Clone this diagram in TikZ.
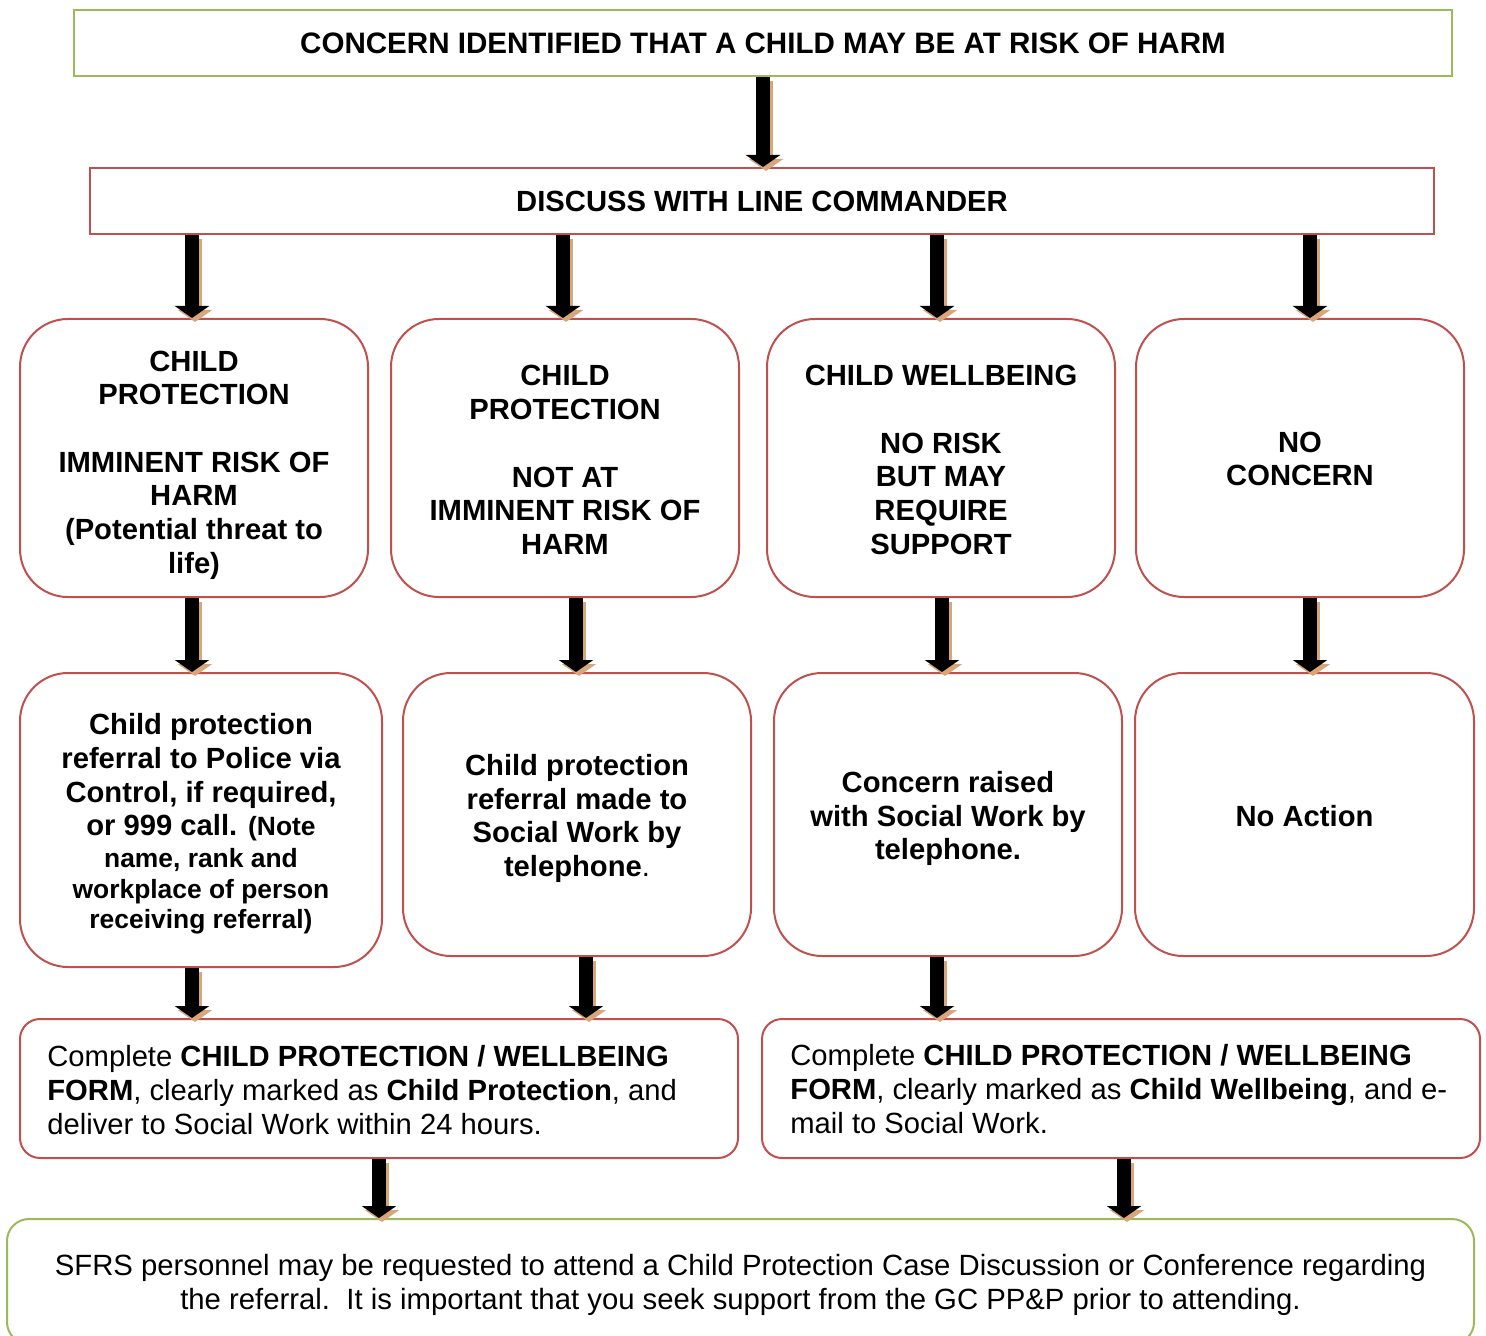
\documentclass[tikz,border=0pt]{standalone}
\usepackage{fontspec}
\setmainfont{Liberation Sans}
\usetikzlibrary{arrows.meta}
\definecolor{grn}{HTML}{9BBB59}
\definecolor{rd}{HTML}{C0504D}
\definecolor{shad}{RGB}{217,166,121}
\newcommand\bigf{\fontsize{14.6pt}{16.85pt}\selectfont}
\newcommand\smallf{\fontsize{13.2pt}{15.5pt}\selectfont}
\newcommand\blockarr[2]{%
  \draw[arrshadow] (#1) -- (#2);
  \draw[arrmain] (#1) -- (#2);}
\begin{document}
\begin{tikzpicture}[x=0.5pt,y=-0.5pt,
  sqbox/.style={draw=#1,line width=1pt,rectangle,inner sep=0pt,font=\bigf\bfseries,align=center},
  rbox/.style={draw=rd,line width=1pt,rectangle,rounded corners=24pt,inner sep=0pt},
  btext/.style={inner sep=0pt,font=\bigf\bfseries,align=center},
  formbox/.style={draw=rd,line width=1pt,rectangle,rounded corners=10pt,inner sep=0pt,minimum width=359pt,minimum height=69.5pt},
  formtext/.style={inner sep=0pt,font=\bigf,align=left,anchor=west},
  arrmain/.style={line width=7pt,black,-{Triangle[width=17pt,length=6pt]}},
  arrshadow/.style={line width=7pt,shad,-{Triangle[width=17pt,length=6pt]},transform canvas={xshift=1.5pt,yshift=-2pt}},
]
\useasboundingbox (0,0) rectangle (1486,1336);
\clip (0,0) rectangle (1486,1336);

% top
\node[sqbox=grn,minimum width=689pt,minimum height=33pt,font=\fontsize{14.78pt}{17pt}\selectfont\bfseries] (top) at (763,43) {CONCERN IDENTIFIED THAT A CHILD MAY BE AT RISK OF HARM};
\node[sqbox=rd,minimum width=672pt,minimum height=33pt] (disc) at (762,201) {DISCUSS WITH LINE COMMANDER};

% row 1
\node[rbox,minimum width=174pt,minimum height=139pt] (b1) at (194,458) {};
\node[btext] (b1t) at (194,465)
  {CHILD\\PROTECTION\\[16.85pt]IMMINENT RISK OF\\HARM\\(Potential threat to\\life)};
\node[rbox,minimum width=174pt,minimum height=139pt] (b2) at (565,458) {};
\node[btext] (b2t) at (565,460)
  {CHILD\\PROTECTION\\[16.85pt]NOT AT\\IMMINENT RISK OF\\HARM};
\node[rbox,minimum width=174pt,minimum height=139pt] (b3) at (941,458) {};
\node[btext] (b3t) at (941,460)
  {CHILD WELLBEING\\[16.85pt]NO RISK\\BUT MAY\\REQUIRE\\SUPPORT};
\node[rbox,minimum width=164pt,minimum height=139pt] (b4) at (1300,458) {};
\node[btext] (b4t) at (1300,459)
  {NO\\CONCERN};

% row 2
\node[rbox,minimum width=181pt,minimum height=147pt] (c1) at (201,820) {};
\node[btext] (c1t) at (201,824)
  {Child protection\\referral to Police via\\Control, if required,\\or 999 call. {\smallf(Note}\\[-1pt]{\smallf name, rank and}\\[-1.5pt]{\smallf workplace of person}\\[-1.5pt]{\smallf receiving referral)}};
\node[rbox,minimum width=174pt,minimum height=141.5pt] (c2) at (577,814.5) {};
\node[btext] (c2t) at (577,818.5)
  {Child protection\\referral made to\\Social Work by\\telephone{\mdseries.}};
\node[rbox,minimum width=174pt,minimum height=141.5pt] (c3) at (948,814.5) {};
\node[btext] (c3t) at (948,818.5)
  {Concern raised\\with Social Work by\\telephone.};
\node[rbox,minimum width=169.5pt,minimum height=141.5pt] (c4) at (1304.5,814.5) {};
\node[btext] (c4t) at (1304.5,816.5)
  {No Action};

% row 3
\node[formbox] (d1) at (379,1088.5) {};
\node[formtext] (d1t) at (47,1090)
  {Complete \textbf{CHILD PROTECTION / WELLBEING}\\\textbf{FORM}, clearly marked as \textbf{Child Protection}, and\\deliver to Social Work within 24 hours.};
\node[formbox] (d2) at (1121,1088.5) {};
\node[formtext] (d2t) at (790,1089)
  {Complete \textbf{CHILD PROTECTION / WELLBEING}\\\textbf{FORM}, clearly marked as \textbf{Child Wellbeing}, and e-\\mail to Social Work.};

% bottom
\node[draw=grn,line width=1pt,rectangle,rounded corners=11pt,inner sep=0pt,minimum width=733.5pt,minimum height=62.5pt] (e) at (740.5,1281.5) {};
\node[inner sep=0pt,font=\fontsize{14.65pt}{17pt}\selectfont,align=center] (et) at (740.5,1284.5)
  {SFRS personnel may be requested to attend a Child Protection Case Discussion or Conference regarding\\the referral.\ \ It is important that you seek support from the GC PP\&P prior to attending.};

% arrow columns
\coordinate (a0) at (763,0);
\coordinate (a1) at (192,0);
\coordinate (a2) at (563,0);
\coordinate (a3) at (937,0);
\coordinate (a4) at (1310,0);
\coordinate (r2) at (576,0);
\coordinate (r3) at (942,0);
\coordinate (s2) at (586,0);
\coordinate (t1) at (379,0);
\coordinate (t2) at (1124,0);

\blockarr{top.south -| a0}{disc.north -| a0}
\blockarr{disc.south -| a1}{b1.north -| a1}
\blockarr{disc.south -| a2}{b2.north -| a2}
\blockarr{disc.south -| a3}{b3.north -| a3}
\blockarr{disc.south -| a4}{b4.north -| a4}
\blockarr{b1.south -| a1}{c1.north -| a1}
\blockarr{b2.south -| r2}{c2.north -| r2}
\blockarr{b3.south -| r3}{c3.north -| r3}
\blockarr{b4.south -| a4}{c4.north -| a4}
\blockarr{c1.south -| a1}{d1.north -| a1}
\blockarr{c2.south -| s2}{d1.north -| s2}
\blockarr{c3.south -| a3}{d2.north -| a3}
\blockarr{d1.south -| t1}{e.north -| t1}
\blockarr{d2.south -| t2}{e.north -| t2}
\end{tikzpicture}
\end{document}
